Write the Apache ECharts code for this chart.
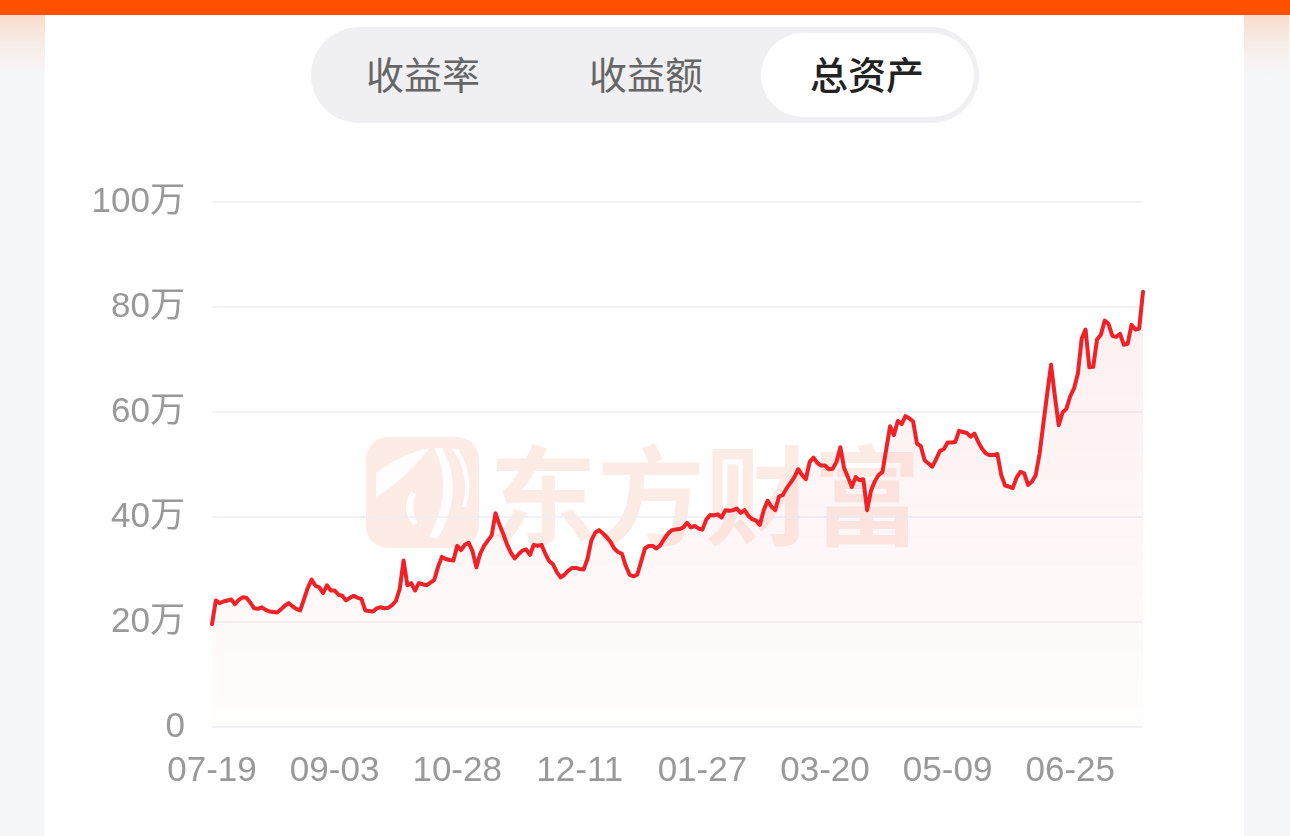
<!DOCTYPE html>
<html>
<head>
<meta charset="utf-8">
<script src="https://cdn.jsdelivr.net/npm/echarts@6/dist/echarts.min.js"></script>
<style>
  html, body { margin: 0; padding: 0; width: 1290px; height: 836px; overflow: hidden; background: #f6f7f9; font-family: "Noto Sans CJK SC", sans-serif; }
  #topbar { position: absolute; left: 0; top: 0; width: 1290px; height: 15px; background: #ff5000; }
  .side { position: absolute; top: 15px; width: 45px; height: 60px; background: linear-gradient(to bottom, #f9dccc 0%, #f7ece6 45%, #f6f7f9 100%); }
  #card { position: absolute; left: 45px; top: 15px; width: 1199px; height: 821px; background: #fff; }
  #seg { position: absolute; left: 311px; top: 27px; width: 668px; height: 96px; border-radius: 48px; background: #f0f0f2; }
  #segOn { position: absolute; left: 761px; top: 33px; width: 213px; height: 84px; border-radius: 42px; background: #fff; }
  .tab { position: absolute; top: 49px; height: 48px; line-height: 48px; font-size: 38px; color: #666; text-align: center; width: 200px; font-family: "Noto Sans CJK SC", sans-serif; }
  .tab.on { color: #222; font-weight: 500; }
  #wmText { position: absolute; left: 489px; top: 434px; font-size: 108px; line-height: 112px; font-weight: 700; color: rgba(240,105,60,0.13); font-family: "Noto Sans CJK SC", sans-serif; white-space: nowrap; letter-spacing: 0px; }
  #wmIcon { position: absolute; left: 366px; top: 437px; width: 113px; height: 111px; }
  #chart { position: absolute; left: 45px; top: 130px; width: 1199px; height: 706px; }
</style>
</head>
<body>
<div id="topbar"></div>
<div class="side" style="left:0"></div>
<div class="side" style="left:1244px"></div>
<div id="card"></div>
<div id="seg"></div>
<div id="segOn"></div>
<div class="tab" style="left:323px">收益率</div>
<div class="tab" style="left:546px">收益额</div>
<div class="tab on" style="left:767px">总资产</div>
<svg id="wmIcon" viewBox="0 0 113 111">
  <rect x="0" y="0" width="113" height="111" rx="22" ry="22" fill="rgba(240,105,60,0.13)"/>
  <path d="M64 11 C44 15 24 25 10 36 L10 60 C26 50 44 36 64 11 Z" fill="#fff" opacity="0.9"/>
  <path d="M68 11 C82 36 80 70 63 100 L72 101 C90 70 92 38 76 11 Z" fill="#fff" opacity="0.9"/>
  <path d="M45 55 C38 66 38 78 47 88 L52 86 C46 76 46 66 50 57 Z" fill="#fff" opacity="0.9"/>
  <path d="M86 12 C100 30 102 52 96 70 L100 70 C106 52 104 30 92 12 Z" fill="#fff" opacity="0.9"/>
</svg>
<div id="wmText">东方财富</div>
<div id="chart"></div>
<script>
const dates = [
'07-19','07-22','07-23','07-24','07-25','07-26','07-29','07-30','07-31',
'08-01','08-02','08-05','08-06','08-07','08-08','08-09','08-12','08-13','08-14','08-15','08-16','08-19','08-20','08-21','08-22','08-23','08-26','08-27','08-28','08-29','08-30',
'09-02','09-03','09-04','09-05','09-06','09-09','09-10','09-11','09-12','09-13','09-18','09-19','09-20','09-23','09-24','09-25','09-26','09-27','09-30',
'10-08','10-09','10-10','10-11','10-14','10-15','10-16','10-17','10-18','10-21','10-22','10-23','10-24','10-25','10-28','10-29','10-30','10-31',
'11-01','11-04','11-05','11-06','11-07','11-08','11-11','11-12','11-13','11-14','11-15','11-18','11-19','11-20','11-21','11-22','11-25','11-26','11-27','11-28','11-29',
'12-02','12-03','12-04','12-05','12-06','12-09','12-10','12-11','12-12','12-13','12-16','12-17','12-18','12-19','12-20','12-23','12-24','12-25','12-26','12-27','12-30','12-31',
'01-02','01-03','01-06','01-07','01-08','01-09','01-10','01-13','01-14','01-15','01-16','01-17','01-20','01-21','01-22','01-23','01-24','01-27',
'02-05','02-06','02-07','02-10','02-11','02-12','02-13','02-14','02-17','02-18','02-19','02-20','02-21','02-24','02-25','02-26','02-27','02-28',
'03-03','03-04','03-05','03-06','03-07','03-10','03-11','03-12','03-13','03-14','03-17','03-18','03-19','03-20','03-21','03-24','03-25','03-26','03-27','03-28','03-31',
'04-01','04-02','04-03','04-07','04-08','04-09','04-10','04-11','04-14','04-15','04-16','04-17','04-18','04-21','04-22','04-23','04-24','04-25','04-28','04-29','04-30',
'05-06','05-07','05-08','05-09','05-12','05-13','05-14','05-15','05-16','05-19','05-20','05-21','05-22','05-23','05-26','05-27','05-28','05-29','05-30',
'06-03','06-04','06-05','06-06','06-09','06-10','06-11','06-12','06-13','06-16','06-17','06-18','06-19','06-20','06-23','06-24','06-25','06-26','06-27','06-30',
'07-01','07-02','07-03','07-04','07-07','07-08','07-09','07-10','07-11','07-14','07-15','07-16','07-17','07-18','07-21','07-22'
];

// 总资产 (unit: 万)
const totalAssets = [
19.6,24.1,23.6,23.9,24.1,24.3,23.4,24.2,24.7,24.6,
23.7,22.6,22.5,22.8,22.3,22.0,21.9,21.8,22.4,23.1,
23.6,23.0,22.5,22.2,24.3,26.5,28.1,26.9,26.6,25.5,
27.0,26.0,26.0,25.2,25.0,24.1,24.6,25.0,24.6,24.4,
22.2,22.1,22.0,22.6,22.8,22.6,22.7,23.2,24.0,26.3,
31.7,27.0,27.4,26.0,27.4,27.2,27.0,27.5,28.0,30.5,
32.4,32.0,31.8,31.7,34.5,33.7,34.7,35.1,33.5,30.4,
33.0,34.5,35.5,36.5,40.7,38.6,36.8,34.8,33.2,32.1,
32.9,33.6,33.8,32.8,34.7,34.5,34.7,33.0,31.6,31.0,
29.5,28.5,29.0,29.8,30.3,30.3,30.1,30.0,32.0,35.5,
37.0,37.5,36.9,36.2,35.3,34.0,33.3,33.0,30.7,29.0,
28.7,29.0,31.5,34.0,34.5,34.5,34.0,34.6,35.8,36.8,
37.5,37.6,37.7,38.0,38.9,38.0,38.3,37.8,37.6,39.5,
40.4,40.3,40.5,39.9,41.3,41.2,41.3,41.6,40.8,41.3,
40.2,39.6,39.3,38.5,41.3,43.1,42.0,41.3,43.9,44.2,
45.5,46.5,47.6,49.1,48.0,47.2,50.5,51.3,50.3,49.8,
49.8,49.1,49.2,50.5,53.3,49.3,47.6,45.7,47.6,47.0,
47.2,41.3,45.0,46.8,48.0,48.6,53.0,57.3,55.6,58.3,
57.7,59.2,58.8,58.2,54.0,53.5,50.8,50.2,49.6,51.0,
52.6,52.9,54.2,54.2,54.3,56.4,56.2,56.0,55.3,55.9,
54.3,53.0,52.1,51.8,51.8,52.0,48.0,46.0,45.8,45.5,
47.5,48.6,48.3,46.1,46.7,48.0,52.0,57.8,63.5,69.0,
63.0,57.5,59.9,60.6,63.0,64.5,67.3,74.0,75.7,68.5,
68.6,73.8,74.7,77.4,76.8,74.5,74.3,74.9,72.8,73.0,
76.6,75.7,75.9,82.9
];

const yTicks = [0, 20, 40, 60, 80, 100];
const yUnit = '万';

const chart = echarts.init(document.getElementById('chart'), null, { renderer: 'canvas' });
chart.setOption({
  backgroundColor: 'transparent',
  animation: false,
  grid: { left: 167, right: 101, top: 72, bottom: 109, containLabel: false },
  xAxis: {
    type: 'category',
    data: dates,
    boundaryGap: false,
    axisLine: { show: false },
    axisTick: { show: false },
    axisLabel: {
      interval: 31,
      color: '#999',
      fontSize: 35,
      margin: 27,
      fontFamily: 'Liberation Sans, Arial, sans-serif'
    },
    splitLine: { show: false }
  },
  yAxis: {
    type: 'value',
    min: yTicks[0],
    max: yTicks[yTicks.length - 1],
    interval: 20,
    axisLine: { show: false },
    axisTick: { show: false },
    axisLabel: {
      color: '#999',
      fontSize: 35,
      margin: 27,
      padding: [4, 0, 0, 0],
      fontFamily: 'Liberation Sans, Noto Sans CJK SC, sans-serif',
      formatter: v => v === 0 ? '0' : v + yUnit
    },
    splitLine: { show: true, lineStyle: { color: '#eceef3', width: 1.5 } }
  },
  series: [{
    type: 'line',
    data: totalAssets,
    symbol: 'none',
    smooth: false,
    lineStyle: { color: '#f02228', width: 4, join: 'round', cap: 'round' },
    itemStyle: { color: '#f02228' },
    areaStyle: {
      color: new echarts.graphic.LinearGradient(0, 0, 0, 1, [
        { offset: 0, color: 'rgba(240,34,40,0.10)' },
        { offset: 1, color: 'rgba(240,34,40,0.015)' }
      ])
    }
  }]
});
</script>
</body>
</html>
